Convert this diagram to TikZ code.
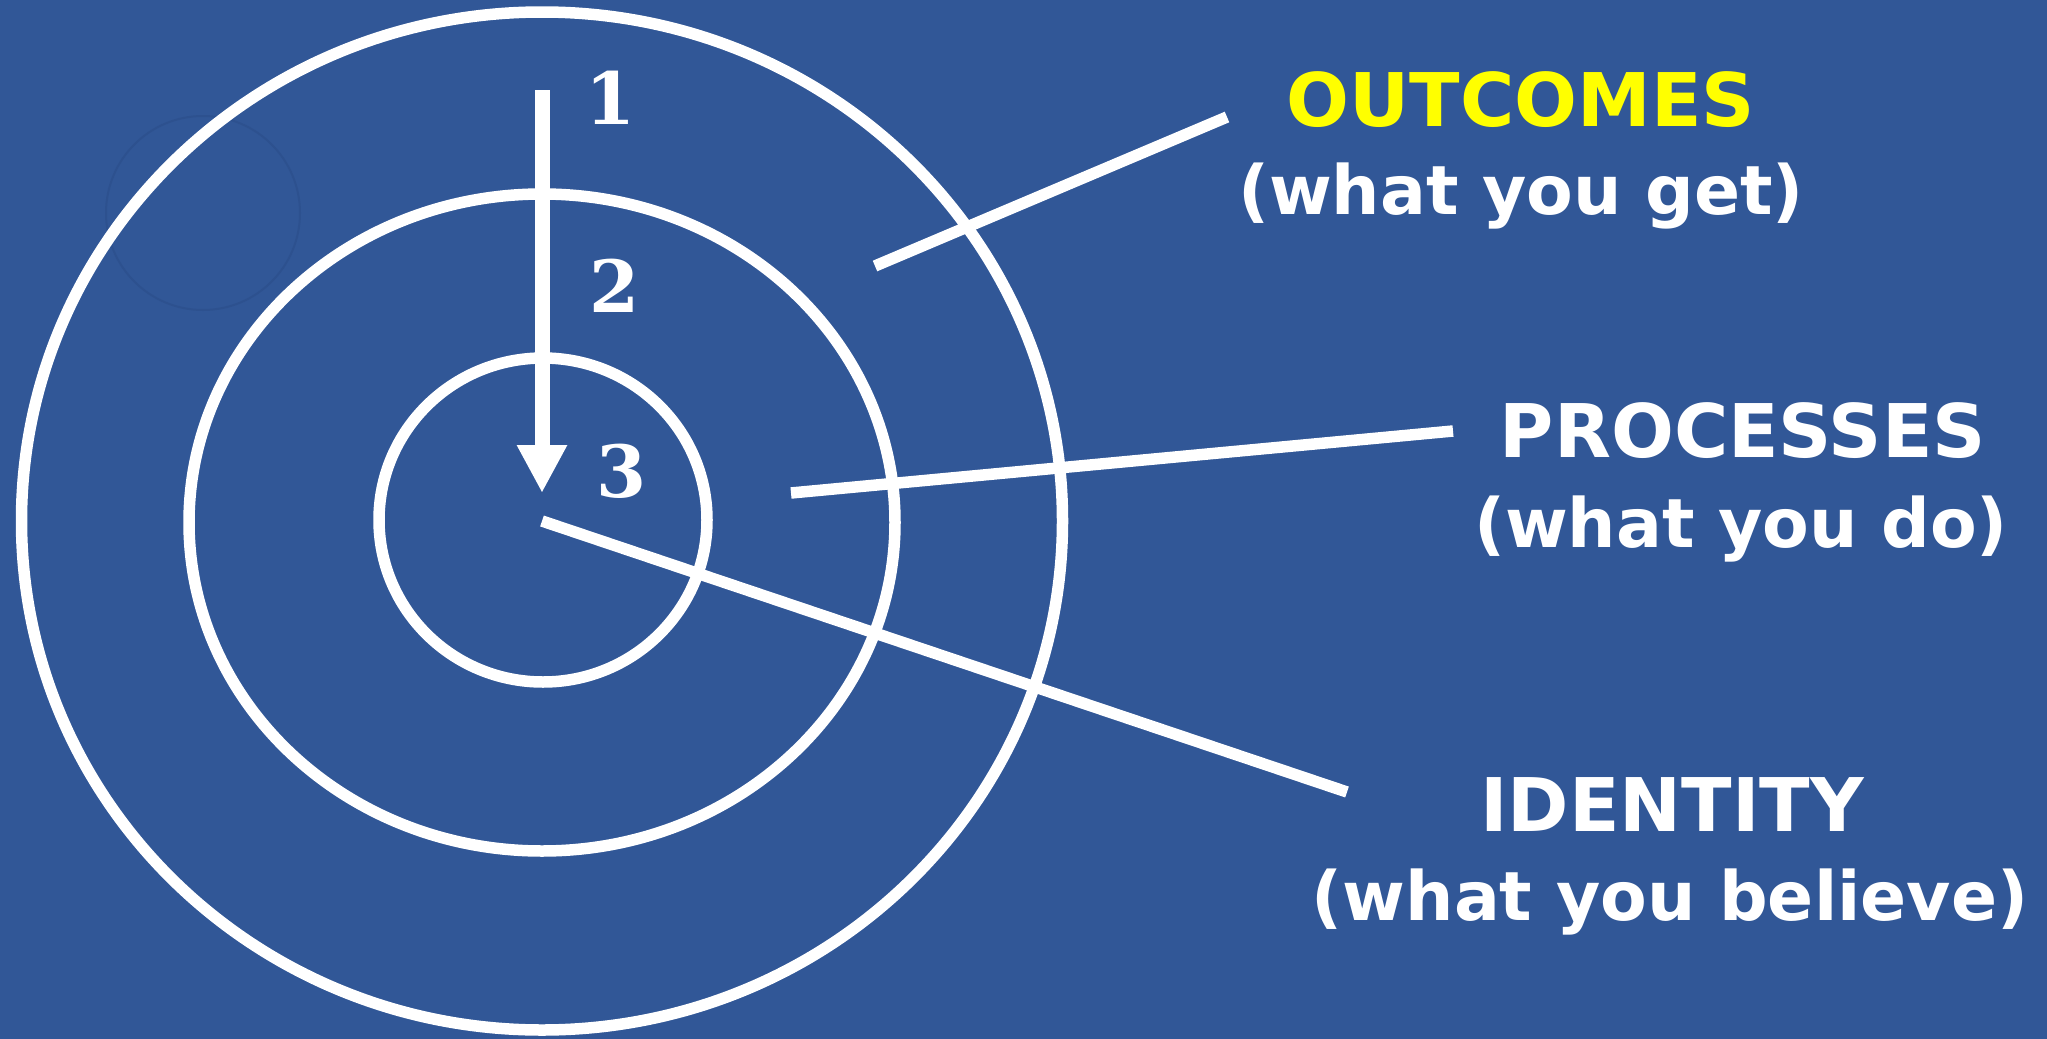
\documentclass[tikz,border=0pt]{standalone}
\usepackage{fontspec}
\usepackage{tikz}
\usetikzlibrary{positioning,arrows.meta}
\newfontfamily\labelfont{DejaVu Sans}
\newfontfamily\digitfont{DejaVu Serif}
\definecolor{bgblue}{RGB}{49,87,151}
\definecolor{faintblue}{RGB}{45,81,143}
\definecolor{headyellow}{RGB}{255,255,0}

\begin{document}
\begin{tikzpicture}[x=0.5pt, y=-0.5pt,
  ring/.style={draw=white, line width=5.75pt},
  pointer/.style={draw=white, line width=5.75pt},
  digit/.style={text=white, inner sep=0pt, font=\digitfont\bfseries\fontsize{36}{36}\selectfont},
  heading/.style={anchor=base, inner sep=0pt, font=\labelfont\bfseries\fontsize{37}{37}\selectfont},
  subheading/.style={anchor=base, inner sep=0pt, text=white, font=\labelfont\bfseries\fontsize{34}{34}\selectfont}
]
\fill[bgblue] (0,0) rectangle (2047,1039);
\useasboundingbox (0,0) rectangle (2047,1039);

% target rings
\coordinate (ctr) at (542,521);
\draw[faintblue, line width=1pt] (203,213) circle [radius=48.5pt];
\draw[ring] (ctr) ellipse [x radius=260.25pt, y radius=254.5pt];
\draw[ring] (542,522.5) ellipse [x radius=176.5pt, y radius=164.25pt];
\draw[ring] (543,520) ellipse [x radius=82pt, y radius=81pt];

% arrow down the middle
\coordinate (arrtop) at (542,90);
\coordinate (arrtip) at (542,493);
\draw[white, line width=7.5pt, -{Triangle[width=23.5pt,length=24pt]}] (arrtop) -- (arrtip);

\node[digit] (one) at (610.5,98) {1};
\node[digit] (two) at (615,285.5) {2};
\node[digit] (three) at (621.5,471) {3};

% labels
\node[heading, text=headyellow] (outcomes) at (1521,126) {OUTCOMES};
\node[subheading] (outcomesnote) at (1521,214) {(what you get)};
\node[heading, text=white] (processes) at (1743,457) {PROCESSES};
\node[subheading] (processesnote) at (1741,547) {(what you do)};
\node[heading, text=white] (identity) at (1672,831) {IDENTITY};
\node[subheading] (identitynote) at (1670,920) {(what you believe)};

% pointer lines
\coordinate (outa) at (875,266);
\coordinate (outb) at (1227,117);
\coordinate (proa) at (791,493);
\coordinate (prob) at (1453,431);
\coordinate (ida) at (ctr);
\coordinate (idb) at (1347,792);
\draw[pointer] (outa) -- (outb);
\draw[pointer] (proa) -- (prob);
\draw[pointer] (ida) -- (idb);
\end{tikzpicture}
\end{document}
